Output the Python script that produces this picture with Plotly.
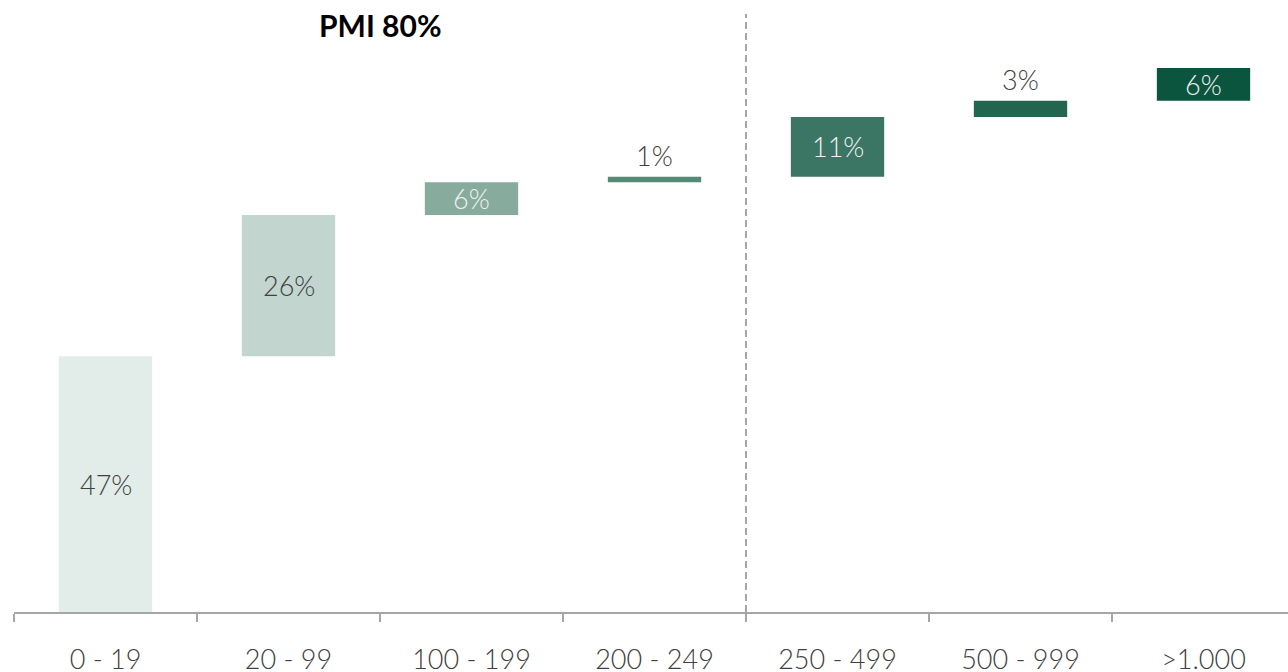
import plotly.graph_objects as go

categories = ["0 - 19", "20 - 99", "100 - 199", "200 - 249", "250 - 499", "500 - 999", ">1.000"]
values = [47, 26, 6, 1, 11, 3, 6]
bar_colors = ["#E2ECE8", "#C2D5CE", "#87AB9C", "#528A75", "#3B7563", "#246550", "#0B553F"]
label_colors = ["#404040", "#404040", "#F2F2F2", "#404040", "#F2F2F2", "#404040", "#F2F2F2"]
label_inside = [True, True, True, False, True, False, True]
title_text = "PMI 80%"

bases = []
acc = 0
for v in values:
    bases.append(acc)
    acc += v

fig = go.Figure()
fig.add_trace(go.Bar(
    x=categories, y=values, base=bases,
    marker=dict(color=bar_colors, line=dict(width=0)),
    width=0.51, hoverinfo="skip", showlegend=False,
))

for c, v, b, col, ins in zip(categories, values, bases, label_colors, label_inside):
    if ins:
        fig.add_annotation(x=c, y=b + v / 2, text=f"{v}%", showarrow=False,
                           font=dict(family="Lato", size=27, color=col, weight=300),
                           yanchor="middle")
    else:
        fig.add_annotation(x=c, y=b + v, text=f"{v}%", showarrow=False,
                           font=dict(family="Lato", size=27, color=col, weight=300),
                           yanchor="bottom", yshift=3)

fig.add_shape(type="line", xref="x", yref="paper", x0=3.5, x1=3.5, y0=0, y1=1,
              line=dict(color="#A6A6A6", width=2, dash="7px,4px"))

fig.add_annotation(xref="paper", yref="paper", x=(380 - 14) / 1274, y=1.0,
                   text=f"<b>{title_text}</b>", showarrow=False,
                   font=dict(family="Lato", size=30, color="#000000"),
                   xanchor="center", yanchor="top", yshift=9)

fig.update_layout(
    width=1288, height=672,
    margin=dict(l=14, r=0, t=14, b=60, autoexpand=False),
    paper_bgcolor="white", plot_bgcolor="white",
    xaxis=dict(
        type="category", range=[-0.5, 6.5 - 7 / 183],
        showline=True, linecolor="#A6A6A6", linewidth=2,
        ticks="outside", tickson="boundaries", ticklen=8, tickwidth=2, tickcolor="#A6A6A6",
        tickfont=dict(family="Lato", size=27, color="#404040", weight=300),
        ticklabelstandoff=23, automargin=False,
        showgrid=False, zeroline=False, fixedrange=True,
    ),
    yaxis=dict(range=[0, 598 / 5.44], visible=False, showgrid=False, zeroline=False,
               automargin=False),
)

fig.write_html("out.html", config={"displayModeBar": False},
               post_script="document.body.style.margin='0';document.body.style.overflow='hidden';")
